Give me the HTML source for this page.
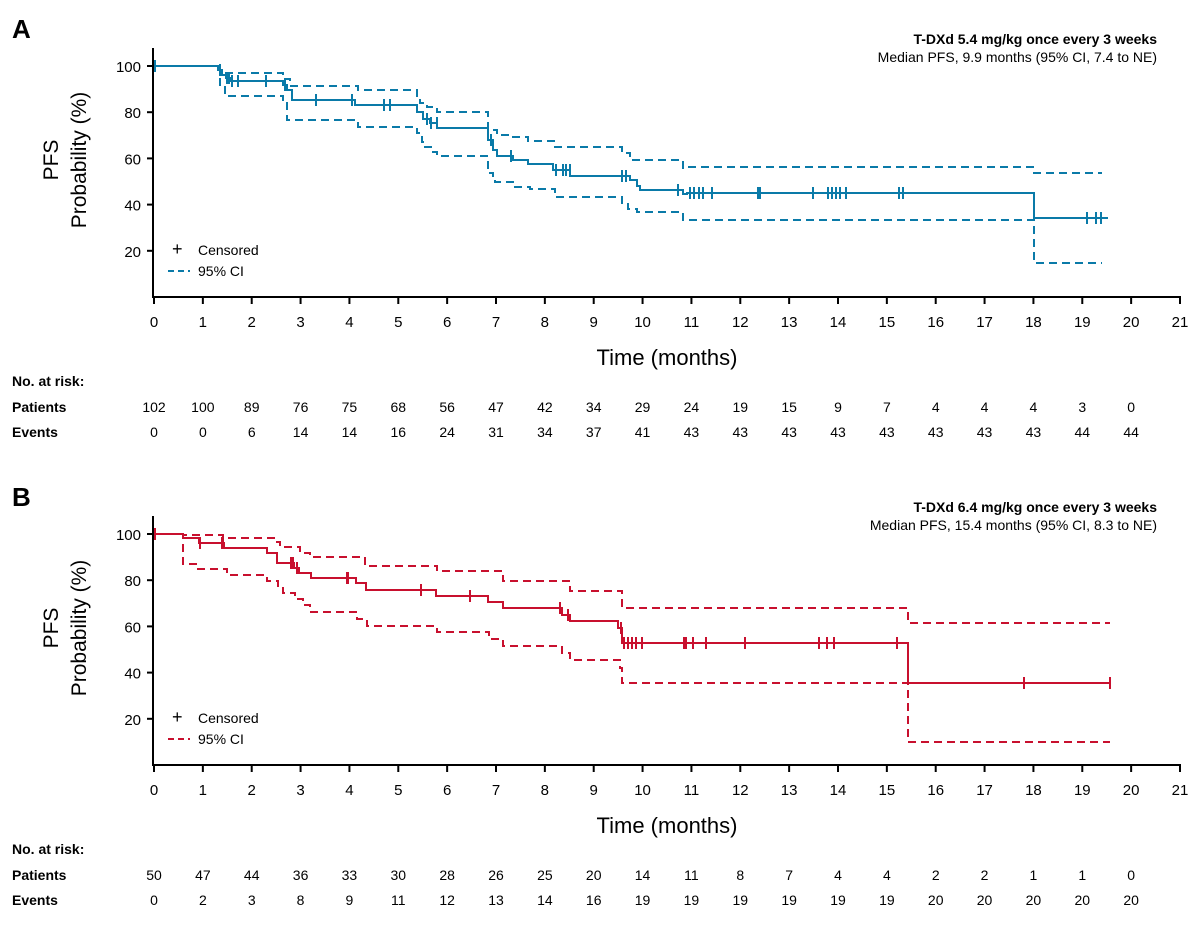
<!DOCTYPE html><html><head><style>body{margin:0;background:#fff}svg{display:block;font-family:"Liberation Sans",sans-serif}</style></head><body>
<svg id="s" width="1200" height="937" xmlns="http://www.w3.org/2000/svg"></svg>
<script>
const s=document.getElementById('s');let h='';
const X=m=>154+m*48.857;
function panel(off,letter,color,ann1,ann2,km,up,lo,cens,pat,ev){
 const y0=297+off;
 h+=`<text x="12" y="${38+off}" font-size="26" font-weight="bold">${letter}</text>`;
 h+=`<text x="1157" y="${44+off}" font-size="14" font-weight="bold" text-anchor="end">${ann1}</text>`;
 h+=`<text x="1157" y="${62+off}" font-size="14" text-anchor="end">${ann2}</text>`;
 h+=`<line x1="153" y1="${48+off}" x2="153" y2="${y0}" stroke="#000" stroke-width="2"/><line x1="152" y1="${y0}" x2="1181" y2="${y0}" stroke="#000" stroke-width="2"/>`;
 for(let v=20;v<=100;v+=20){const y=y0-v*2.31;h+=`<line x1="147" y1="${y}" x2="153" y2="${y}" stroke="#000" stroke-width="2"/><text x="141" y="${y+6}" font-size="15" text-anchor="end">${v}</text>`;}
 for(let i=0;i<=21;i++){const x=X(i);h+=`<line x1="${x}" y1="${y0}" x2="${x}" y2="${y0+7}" stroke="#000" stroke-width="2"/><text x="${x}" y="${y0+30}" font-size="15" text-anchor="middle">${i}</text>`;}
 h+=`<text x="667" y="${y0+68}" font-size="22" text-anchor="middle">Time (months)</text>`;
 h+=`<text transform="translate(58,${160+off}) rotate(-90)" font-size="21" text-anchor="middle">PFS</text><text transform="translate(86,${160+off}) rotate(-90)" font-size="21" text-anchor="middle">Probability (%)</text>`;
 h+=`<text x="172" y="${255+off}" font-size="18">+</text><text x="198" y="${255+off}" font-size="14">Censored</text>`;
 h+=`<line x1="168" y1="${271+off}" x2="190" y2="${271+off}" stroke="${color}" stroke-width="2" stroke-dasharray="6,4"/><text x="198" y="${276+off}" font-size="14">95% CI</text>`;
 h+=`<path d="${up}" fill="none" stroke="${color}" stroke-width="2" stroke-dasharray="8,5"/>`;
 h+=`<path d="${lo}" fill="none" stroke="${color}" stroke-width="2" stroke-dasharray="8,5"/>`;
 h+=`<path d="${km}" fill="none" stroke="${color}" stroke-width="2"/>`;
 const tok=km.match(/[MHV]|-?[\d.]+/g);let segs=[],cx=0,cy=0,i=0;
 while(i<tok.length){const c=tok[i++];if(c=='M'){cx=+tok[i++];cy=+tok[i++];}else if(c=='H'){const nx=+tok[i++];segs.push([cx,nx,cy]);cx=nx;}else{cy=+tok[i++];}}
 cens.forEach(x=>{let y=segs[segs.length-1][2];for(const g of segs){if(x>=g[0]&&x<=g[1]){y=g[2];break;}}h+=`<line x1="${x}" y1="${y-6}" x2="${x}" y2="${y+6}" stroke="${color}" stroke-width="2"/>`;});
 const ry=y0+89;
 h+=`<text x="12" y="${ry}" font-size="14" font-weight="bold">No. at risk:</text><text x="12" y="${ry+26}" font-size="14" font-weight="bold">Patients</text><text x="12" y="${ry+51}" font-size="14" font-weight="bold">Events</text>`;
 pat.forEach((v,k)=>h+=`<text x="${X(k)}" y="${ry+26}" font-size="14" text-anchor="middle">${v}</text>`);
 ev.forEach((v,k)=>h+=`<text x="${X(k)}" y="${ry+51}" font-size="14" text-anchor="middle">${v}</text>`);
}
const B='#0a7aa8',R='#c8102e';
panel(0,'A',B,'T-DXd 5.4 mg/kg once every 3 weeks','Median PFS, 9.9 months (95% CI, 7.4 to NE)',
'M154,66 H218 V70 H222 V75 H226 V78 H230 V81 H283 V85 H287 V90 H292 V100 H355 V105 H417 V112 H423 V119 H430 V123 H437 V128 H488 V140 H493 V150 H497 V156 H513 V160 H528 V164 H553 V170 H570 V176 H622 V176 H630 V180 H637 V186 H640 V190 H683 V194 H687 V193 H1034 V218 H1108',
'M154,66 H220 V73 H283 V79 H290 V86 H358 V90 H417 V97 H420 V103 H427 V107 H437 V112 H488 V130 H497 V135 H513 V137 H528 V141 H555 V147 H570 V147 H622 V153 H630 V160 H637 V160 H683 V168 H687 V167 H1034 V173 H1102',
'M154,66 H220 V87 H225 V96 H283 V100 H287 V120 H358 V127 H417 V133 H422 V142 H425 V147 H433 V152 H437 V156 H458 V156 H488 V173 H493 V179 H495 V182 H513 V187 H530 V189 H555 V197 H570 V197 H622 V203 H628 V209 H637 V212 H645 V212 H683 V220 H688 V220 H1034 V263 H1102',
[155,220,227,229,232,238,266,285,316,352,384,390,427,431,437,491,511,556,563,566,570,622,626,678,690,694,699,703,712,758,760,813,828,832,836,840,846,899,903,1087,1096,1101],
[102,100,89,76,75,68,56,47,42,34,29,24,19,15,9,7,4,4,4,3,0],[0,0,6,14,14,16,24,31,34,37,41,43,43,43,43,43,43,43,43,44,44]);
panel(468,'B',R,'T-DXd 6.4 mg/kg once every 3 weeks','Median PFS, 15.4 months (95% CI, 8.3 to NE)',
'M154,534 H183 V538 H199 V543 H224 V548 H267 V553 H277 V563 H294 V568 H299 V573 H311 V578 H356 V583 H366 V590 H436 V596 H488 V602 H503 V608 H562 V615 H570 V621 H618 V628 H622 V643 H908 V683 H1110',
'M154,534 H183 V535 H223 V538 H267 V538 H275 V542 H280 V547 H295 V547 H300 V553 H310 V557 H353 V557 H365 V566 H435 V566 H437 V571 H487 V571 H503 V581 H560 V581 H570 V591 H617 V591 H622 V608 H908 V623 H1110',
'M154,534 H183 V564 H198 V569 H225 V569 H227 V575 H265 V575 H267 V581 H277 V581 H278 V587 H283 V593 H293 V593 H295 V599 H303 V605 H310 V612 H353 V612 H357 V619 H367 V626 H437 V626 H437 V632 H487 V632 H489 V639 H503 V646 H560 V646 H562 V653 H570 V660 H618 V660 H620 V668 H622 V683 H908 V742 H1110',
[155,200,222,223,291,293,297,347,348,421,470,560,568,621,624,628,632,636,642,684,686,693,706,745,819,827,834,897,1024,1110],
[50,47,44,36,33,30,28,26,25,20,14,11,8,7,4,4,2,2,1,1,0],[0,2,3,8,9,11,12,13,14,16,19,19,19,19,19,19,20,20,20,20,20]);
s.innerHTML=h;
</script></body></html>
